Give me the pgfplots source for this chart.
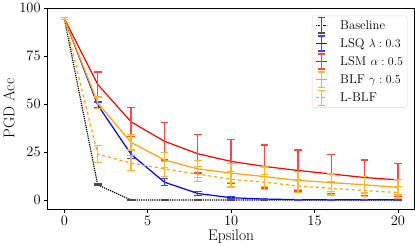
\documentclass[border=0pt]{standalone}
\usepackage{pgfplots}
\pgfplotsset{compat=1.18}
\usepackage{pgfplotstable}
\definecolor{mplorange}{HTML}{FFA500}
\colorlet{ebblack}{black!70!white}
\colorlet{ebblue}{blue!75!white}
\colorlet{ebred}{red!72!white}
\colorlet{eborange}{mplorange!80!white}
\pgfdeclareplotmark{ebar}{%
  \pgfpathmoveto{\pgfqpoint{0pt}{-\pgfplotmarksize}}%
  \pgfpathlineto{\pgfqpoint{0pt}{\pgfplotmarksize}}%
  \pgfpathmoveto{\pgfqpoint{-3.5bp}{-\pgfplotmarksize}}%
  \pgfpathlineto{\pgfqpoint{3.5bp}{-\pgfplotmarksize}}%
  \pgfpathmoveto{\pgfqpoint{-3.5bp}{\pgfplotmarksize}}%
  \pgfpathlineto{\pgfqpoint{3.5bp}{\pgfplotmarksize}}%
  \pgfusepathqstroke}
\pgfplotstableread{
x y e
0 94.5 0.5
2 7.9 0.5
4 0 0.2
6 0 0.1
8 0 0.1
10 0 0.1
12 0 0.1
14 0 0.1
16 0 0.1
18 0 0.1
20 0 0.1
}\base
\pgfplotstableread{
x y e
0 94.5 0.5
2 49.5 1.5
4 23.8 2.0
6 9.3 1.8
8 3.4 1.2
10 1.2 0.6
12 0.5 0.4
14 0.2 0.2
16 0.1 0.1
18 0.1 0.1
20 0.1 0.1
}\lsq
\pgfplotstableread{
x y e
0 94.5 0.5
2 60.2 6.5
4 40.7 7.6
6 30.6 9.7
8 24.1 10.0
10 20.1 11.3
12 17.5 11.2
14 15.4 10.7
16 13.6 10.2
18 11.7 9.2
20 10.5 8.4
}\lsm
\pgfplotstableread{
x y e
0 94.5 0.5
2 50.6 3.0
4 30.0 4.0
6 20.9 4.0
8 16.2 4.5
10 14.0 5.0
12 12.2 5.0
14 10.2 4.8
16 9.1 4.5
18 7.9 4.2
20 6.6 4.0
}\blf
\pgfplotstableread{
x y e
0 94.5 0.5
2 23.9 4.5
4 19.2 4.0
6 16.2 4.0
8 13.5 4.0
10 10.8 4.0
12 9.3 4.0
14 7.3 3.5
16 6.1 3.5
18 4.9 3.2
20 3.9 3.0
}\lblf
\begin{document}
\begin{tikzpicture}[x=1bp,y=1bp]
\begin{axis}[
  scale only axis,
  width=365bp, height=200bp,
  xmin=-1, xmax=21, ymin=-4.7, ymax=100,
  xtick={0,5,10,15,20}, ytick={0,25,50,75,100},
  tick align=outside, xtick pos=bottom, ytick pos=left,
  major tick length=3.5bp,
  tick style={black, line width=0.8bp},
  axis line style={line width=0.8bp},
  ticklabel style={font=\fontsize{15.5}{18}\selectfont},
  label style={font=\fontsize{15.5}{18}\selectfont},
  xlabel={Epsilon}, ylabel={PGD Acc},
  xlabel style={yshift=3bp},
  ylabel style={yshift=-2bp},
  legend style={at={(0.98,0.962)}, anchor=north east, draw=black!15,
    rounded corners=2bp, font=\fontsize{12.7}{14.5}\selectfont,
    inner xsep=2bp, inner ysep=2bp, row sep=3bp, cells={anchor=west}},
  legend cell align=left,
  legend image code/.code={%
    \path[draw=none, fill=none] (-2bp,0bp) -- (22bp,0bp);
    \draw[mark repeat=2, mark phase=2, #1] plot coordinates {(0bp,0bp) (5.5bp,0bp) (11bp,0bp)};
  },
  every axis plot/.append style={line width=1.2bp},
  error bars/error bar style={line width=1.3bp},
]
\addlegendimage{black, densely dotted, line width=1.2bp, mark=ebar, mark size=7.5bp,
  mark options={solid, ebblack, line width=1.3bp}}
\addlegendentry{Baseline}
\addlegendimage{blue, line width=1.2bp, mark=ebar, mark size=7.5bp,
  mark options={solid, ebblue, line width=1.3bp}}
\addlegendentry{LSQ $\lambda:0.3$}
\addlegendimage{red, line width=1.2bp, mark=ebar, mark size=7.5bp,
  mark options={solid, ebred, line width=1.3bp}}
\addlegendentry{LSM $\alpha:0.5$}
\addlegendimage{mplorange, line width=1.2bp, mark=ebar, mark size=7.5bp,
  mark options={solid, eborange, line width=1.3bp}}
\addlegendentry{BLF $\gamma:0.5$}
\addlegendimage{mplorange, dashed, line width=1.2bp, mark=ebar, mark size=7.5bp,
  mark options={solid, eborange, line width=1.3bp}}
\addlegendentry{L-BLF}
\addplot[black, densely dotted, mark=none, forget plot,
  error bars/.cd, y dir=both, y explicit,
  error bar style={ebblack, solid},
  error mark options={rotate=90, mark size=3.8bp, line width=1.3bp, ebblack, solid}]
  table[x=x, y=y, y error=e] {\base};
\addplot[blue, mark=none, forget plot,
  error bars/.cd, y dir=both, y explicit,
  error bar style={ebblue},
  error mark options={rotate=90, mark size=3.8bp, line width=1.3bp, ebblue}]
  table[x=x, y=y, y error=e] {\lsq};
\addplot[red, mark=none, forget plot,
  error bars/.cd, y dir=both, y explicit,
  error bar style={ebred},
  error mark options={rotate=90, mark size=3.8bp, line width=1.3bp, ebred}]
  table[x=x, y=y, y error=e] {\lsm};
\addplot[mplorange, mark=none, forget plot,
  error bars/.cd, y dir=both, y explicit,
  error bar style={eborange},
  error mark options={rotate=90, mark size=3.8bp, line width=1.3bp, eborange}]
  table[x=x, y=y, y error=e] {\blf};
\addplot[mplorange, dashed, mark=none, forget plot,
  error bars/.cd, y dir=both, y explicit,
  error bar style={eborange, solid},
  error mark options={rotate=90, mark size=3.8bp, line width=1.3bp, eborange, solid}]
  table[x=x, y=y, y error=e] {\lblf};
\end{axis}
\end{tikzpicture}
\end{document}
